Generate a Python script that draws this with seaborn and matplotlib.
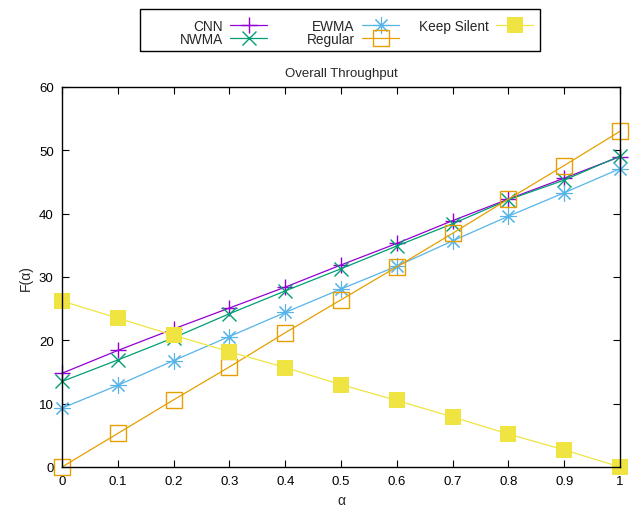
import numpy as np
import pandas as pd
import matplotlib
matplotlib.use("Agg")
import matplotlib.pyplot as plt
from matplotlib.patches import Rectangle
import seaborn as sns

# values
alpha = [0.0, 0.1, 0.2, 0.3, 0.4, 0.5, 0.6, 0.7, 0.8, 0.9, 1.0]
cnn = [14.8, 18.4, 21.8, 25.1, 28.4, 31.9, 35.3, 38.9, 42.3, 45.6, 49.0]
nwma = [13.5, 16.9, 20.4, 24.2, 27.8, 31.3, 34.9, 38.4, 42.2, 45.3, 49.1]
ewma = [9.3, 12.9, 16.8, 20.6, 24.4, 28.1, 31.7, 35.7, 39.6, 43.3, 47.1]
regular = [0.0, 5.3, 10.6, 15.8, 21.2, 26.4, 31.6, 36.9, 42.3, 47.6, 53.0]
keep_silent = [26.2, 23.5, 20.8, 18.2, 15.7, 13.0, 10.5, 7.9, 5.2, 2.7, 0.0]

sns.set_style("ticks")
plt.rcParams['font.family'] = ['Liberation Sans', 'DejaVu Sans']
plt.rcParams['font.size'] = 9

W, H = 633, 510
fig = plt.figure(figsize=(W / 100, H / 100), dpi=100)
ax = fig.add_axes([0.098, 0.0824, 0.8815, 0.7451])

lw = 0.9
common = dict(ax=ax, linewidth=lw, clip_on=False)
sns.lineplot(x=alpha, y=cnn, color='#9400D3', marker='+', markersize=12,
             markeredgecolor='#9400D3', markeredgewidth=1.0, label='CNN', **common)
sns.lineplot(x=alpha, y=nwma, color='#009E73', marker='x', markersize=10,
             markeredgecolor='#009E73', markeredgewidth=1.0, label='NWMA', **common)
sns.lineplot(x=alpha, y=ewma, color='#56B4E9', marker=(8, 2, 0), markersize=12,
             markeredgecolor='#56B4E9', markeredgewidth=0.8, label='EWMA', **common)
sns.lineplot(x=alpha, y=regular, color='#E69F00', marker='s', markersize=11,
             markerfacecolor='none', markeredgecolor='#E69F00', markeredgewidth=1.0,
             label='Regular', **common)
sns.lineplot(x=alpha, y=keep_silent, color='#F0E442', marker='s', markersize=11,
             markeredgecolor='#F0E442', markeredgewidth=0, label='Keep Silent', **common)

ax.set_xlim(0, 1)
ax.set_ylim(0, 60)
ax.set_xticks(alpha)
ax.set_xticklabels(['0', '0.1', '0.2', '0.3', '0.4', '0.5', '0.6', '0.7', '0.8', '0.9', '1'])
ax.set_yticks([0, 10, 20, 30, 40, 50, 60])
ax.tick_params(direction='in', top=True, right=True, length=5, width=0.8,
               labelsize=9.5, pad=6, colors='black')
for s in ax.spines.values():
    s.set_visible(True)
    s.set_linewidth(1.0)
    s.set_color('black')
    s.set_zorder(5)

ax.set_xlabel('α', fontsize=10)
ax.set_ylabel('F(α)', fontsize=10)
ax.set_title('Overall Throughput', fontsize=9.5, pad=8)

# gnuplot-style key: three right-aligned columns inside one box
handles, labels = ax.get_legend_handles_labels()
ax.get_legend().remove()
groups = [[0, 1], [2, 3], [4]]
right_edges = [267, 399, 533]
for grp, xr in zip(groups, right_edges):
    leg = fig.legend([handles[i] for i in grp], [labels[i] for i in grp],
                     loc='upper right', bbox_to_anchor=(xr / W, 1 - 20 / H),
                     markerfirst=False, frameon=False, fontsize=9.8,
                     handlelength=2.7, handletextpad=0.55, labelspacing=-0.1,
                     borderpad=0, borderaxespad=0)
fig.patches.append(Rectangle((140 / W, 1 - 52 / H), 400 / W, 42 / H,
                             transform=fig.transFigure, fill=False,
                             edgecolor='black', linewidth=1.0))

fig.savefig('out.png', dpi=100)
